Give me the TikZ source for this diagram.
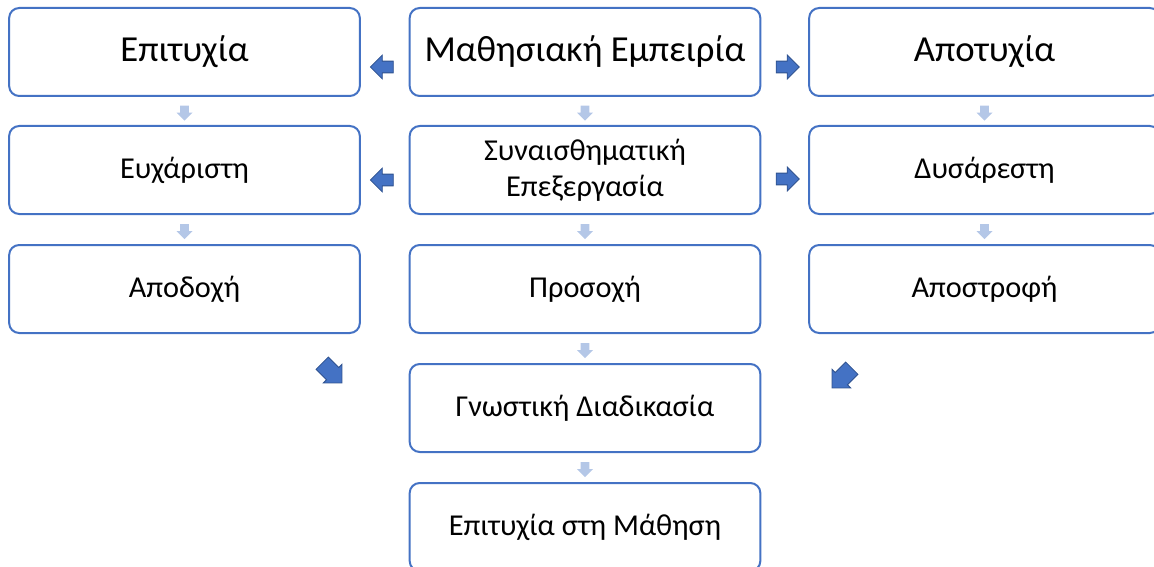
\documentclass[tikz,border=0pt]{standalone}
\usepackage{fontspec}
\setmainfont{Carlito}
\usetikzlibrary{shapes.arrows,calc}
\definecolor{boxblue}{HTML}{4472C4}
\definecolor{paleblue}{HTML}{B4C7E7}
\definecolor{darkblue}{HTML}{2F528F}
\tikzset{
  stage/.style={draw=boxblue, line width=1.5pt, rounded corners=7.5pt, fill=white, minimum width=263pt, minimum height=66pt, inner sep=0pt, align=center, font=\fontsize{22.75}{27}\selectfont},
  bigstage/.style={stage, font=\fontsize{27.5}{32}\selectfont},
  downarrow/.style={single arrow, fill=paleblue, inner xsep=0pt, inner ysep=3pt, minimum height=11.25pt, single arrow head extend=2.8pt, rotate=-90},
  sidearrow/.style={single arrow, fill=boxblue, draw=darkblue, line width=0.6pt, inner xsep=0pt, inner ysep=4.1pt, minimum height=17.25pt, single arrow head extend=4.6pt},
  bendarrow/.style={sidearrow, inner ysep=6.2pt, minimum height=21pt, single arrow head extend=3.4pt}
}
\begin{document}
\begin{tikzpicture}[x=0.75pt, y=-0.75pt]
\useasboundingbox (0,0) rectangle (1154,567);
\node[bigstage] (Success) at (184.5,52) {Επιτυχία};
\node[bigstage] (Experience) at (585,52) {Μαθησιακή Εμπειρία};
\node[bigstage] (Failure) at (984.5,52) {Αποτυχία};
\node[stage] (Pleasant) at (184.5,170) {Ευχάριστη};
\node[stage] (Emotion) at (585,170) {Συναισθηματική\\Επεξεργασία};
\node[stage] (Unpleasant) at (984.5,170) {Δυσάρεστη};
\node[stage] (Accept) at (184.5,289) {Αποδοχή};
\node[stage] (Attention) at (585,289) {Προσοχή};
\node[stage] (Aversion) at (984.5,289) {Αποστροφή};
\node[stage] (Cognition) at (585,408) {Γνωστική Διαδικασία};
\node[stage] (Learning) at (585,527) {Επιτυχία στη Μάθηση};
\node[downarrow] at ($(Success.south)!0.5!(Pleasant.north)$) {};
\node[downarrow] at ($(Pleasant.south)!0.5!(Accept.north)$) {};
\node[downarrow] at ($(Experience.south)!0.5!(Emotion.north)$) {};
\node[downarrow] at ($(Emotion.south)!0.5!(Attention.north)$) {};
\node[downarrow] at ($(Attention.south)!0.5!(Cognition.north)$) {};
\node[downarrow] at ($(Cognition.south)!0.5!(Learning.north)$) {};
\node[downarrow] at ($(Failure.south)!0.5!(Unpleasant.north)$) {};
\node[downarrow] at ($(Unpleasant.south)!0.5!(Aversion.north)$) {};
\node[sidearrow, rotate=180] at ($(Success.east)!0.5!(Experience.west)+(0,15)$) {};
\node[sidearrow] at ($(Experience.east)!0.5!(Failure.west)+(0,15)$) {};
\node[sidearrow, rotate=180] at ($(Pleasant.east)!0.5!(Emotion.west)+(0,10)$) {};
\node[sidearrow] at ($(Emotion.east)!0.5!(Unpleasant.west)+(0,9)$) {};
\node[bendarrow, rotate=-45] at (329,370) {};
\node[bendarrow, rotate=-135] at (845,375) {};
\end{tikzpicture}
\end{document}
